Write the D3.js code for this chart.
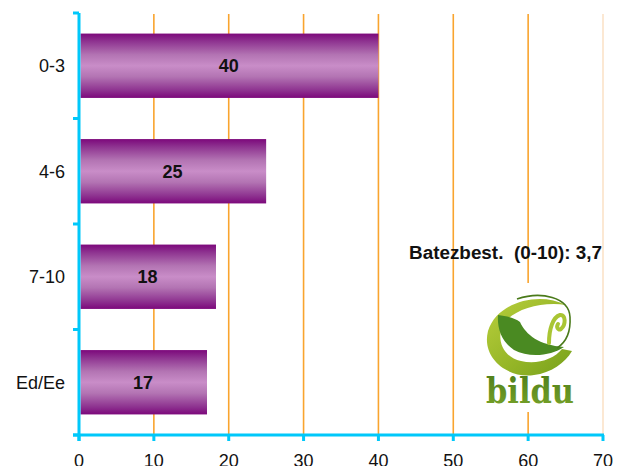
<!DOCTYPE html>
<html>
<head>
<meta charset="utf-8">
<script src="https://cdn.jsdelivr.net/npm/d3@7/dist/d3.min.js"></script>
<style>
  html, body { margin: 0; padding: 0; background: #fff; }
  svg { display: block; }
</style>
</head>
<body>
<svg id="chart" width="618" height="466"></svg>
<script>
// ---- data ----
const categories = ["0-3", "4-6", "7-10", "Ed/Ee"];
const values = [40, 25, 18.3, 17.1];
const valueLabels = ["40", "25", "18", "17"];
const xTicks = [0, 10, 20, 30, 40, 50, 60, 70];
const annotation = "Batezbest.  (0-10): 3,7";
const logoText = "bildu";

(function () {
// ---- layout ----
const mLeft = 79, mRight = 603, mTop = 13, mBottom = 435;
const axisColor = "#00C8FA";
const gridColor = "#F9A42E";

const svg = d3.select("#chart");
const defs = svg.append("defs");

const grad = defs.append("linearGradient").attr("id", "barGrad")
  .attr("x1", 0).attr("y1", 0).attr("x2", 0).attr("y2", 1);
[[0, "#7c087b"], [0.12, "#8e3390"], [0.33, "#b374b3"], [0.5, "#c98dc8"],
 [0.67, "#b374b3"], [0.88, "#8e3390"], [1, "#7c087b"]]
  .forEach(([o, c]) => grad.append("stop").attr("offset", o).attr("stop-color", c));

const lgA = defs.append("linearGradient").attr("id", "limeGrad")
  .attr("x1", 0).attr("y1", 0).attr("x2", 1).attr("y2", 1);
lgA.append("stop").attr("offset", 0).attr("stop-color", "#b9cf3c");
lgA.append("stop").attr("offset", 0.6).attr("stop-color", "#93b426");
lgA.append("stop").attr("offset", 1).attr("stop-color", "#76a01c");

const lgT = defs.append("linearGradient").attr("id", "textGrad")
  .attr("x1", 0).attr("y1", 0).attr("x2", 0).attr("y2", 1);
lgT.append("stop").attr("offset", 0).attr("stop-color", "#4a7a18");
lgT.append("stop").attr("offset", 1).attr("stop-color", "#7aa52a");

const x = d3.scaleLinear().domain([0, 70]).range([mLeft, mRight]);
const y = d3.scaleBand().domain(categories).range([mTop, mBottom])
  .paddingInner(0.39).paddingOuter(0.195);

// gridlines
svg.append("g").selectAll("line").data(xTicks.filter(d => d > 0)).join("line")
  .attr("x1", d => x(d)).attr("x2", d => x(d))
  .attr("y1", mTop + 1).attr("y2", mBottom)
  .attr("stroke", d => d === 70 ? "#FBE3C8" : gridColor)
  .attr("stroke-width", 1.6);

// bars
svg.append("g").selectAll("rect").data(values).join("rect")
  .attr("x", x(0) + 1.5)
  .attr("y", (d, i) => y(categories[i]))
  .attr("width", d => x(d) - x(0) - 1.5)
  .attr("height", y.bandwidth())
  .attr("fill", "url(#barGrad)");

// value labels
svg.append("g").selectAll("text").data(values).join("text")
  .attr("x", d => (x(0) + x(d)) / 2)
  .attr("y", (d, i) => y(categories[i]) + y.bandwidth() / 2)
  .attr("dy", "0.36em")
  .attr("text-anchor", "middle")
  .attr("font-family", "Liberation Sans, Arial, sans-serif")
  .attr("font-weight", "bold")
  .attr("font-size", 18)
  .attr("fill", "#111")
  .text((d, i) => valueLabels[i]);

// logo
const logo = svg.append("g").attr("transform", "translate(470,275)");
logo.append("rect").attr("x", 7).attr("y", 8).attr("width", 107).attr("height", 129).attr("fill", "#fff");
const swirl = logo.append("g").attr("transform", "translate(-1,4)");
swirl.append("path")
  .attr("d", "M 97,26 C 70,12 28,23 19,52 C 12,80 40,100 65,96 C 82,94 96,84 103,72 L 93,70 C 85,80 68,86 52,82 C 34,78 28,62 33,48 C 40,32 70,22 97,26 Z")
  .attr("fill", "url(#limeGrad)");
swirl.append("path")
  .attr("d", "M 29,36 C 38,37 46,39 51,43 C 57,56 70,66 95,68 C 82,77 60,79 45,71 C 33,63 28,50 29,36 Z")
  .attr("fill", "#4a8a22");
swirl.append("path")
  .attr("d", "M 48,20 C 72,12 100,18 101,38 C 102,55 96,64 88,69")
  .attr("fill", "none").attr("stroke", "#4a7a1a").attr("stroke-width", 1.6);
swirl.append("path")
  .attr("d", "M 80,64 C 80,50 84,38 91,36 C 97,35 97,46 92,50 C 89,52 87,48 89,45")
  .attr("fill", "none").attr("stroke", "#a9c533").attr("stroke-width", 4).attr("stroke-linecap", "round");
logo.append("text")
  .attr("x", 16).attr("y", 128)
  .attr("font-family", "DejaVu Serif, serif")
  .attr("font-weight", "bold")
  .attr("font-size", 36)
  .attr("textLength", 88)
  .attr("lengthAdjust", "spacingAndGlyphs")
  .attr("fill", "url(#textGrad)")
  .text(logoText);

// annotation
svg.append("text")
  .attr("x", 409).attr("y", 259)
  .attr("font-family", "Liberation Sans, Arial, sans-serif")
  .attr("font-weight", "bold")
  .attr("font-size", 18)
  .attr("textLength", 193)
  .attr("lengthAdjust", "spacingAndGlyphs")
  .attr("fill", "#111")
  .style("white-space", "pre")
  .text(annotation);

// y axis
const step = y.step();
const yTickPos = categories.map(c => y(c) - y.paddingInner() * step / 2);
yTickPos[0] = mTop;
yTickPos.push(mBottom);
svg.append("line").attr("x1", mLeft).attr("x2", mLeft).attr("y1", mTop).attr("y2", mBottom + 6)
  .attr("stroke", axisColor).attr("stroke-width", 3);
svg.append("g").selectAll("line").data(yTickPos).join("line")
  .attr("x1", mLeft - 6).attr("x2", mLeft).attr("y1", d => d).attr("y2", d => d)
  .attr("stroke", axisColor).attr("stroke-width", 3);

svg.append("g").selectAll("text").data(categories).join("text")
  .attr("x", 65)
  .attr("y", d => y(d) + y.bandwidth() / 2)
  .attr("dy", "0.36em")
  .attr("text-anchor", "end")
  .attr("font-family", "Liberation Sans, Arial, sans-serif")
  .attr("font-size", 18)
  .attr("fill", "#111")
  .text(d => d);

// x axis
svg.append("line").attr("x1", mLeft - 6).attr("x2", mRight + 1).attr("y1", mBottom).attr("y2", mBottom)
  .attr("stroke", axisColor).attr("stroke-width", 3);
svg.append("g").selectAll("line").data(xTicks).join("line")
  .attr("x1", d => x(d)).attr("x2", d => x(d)).attr("y1", mBottom).attr("y2", mBottom + 6)
  .attr("stroke", axisColor).attr("stroke-width", 3);
svg.append("g").selectAll("text").data(xTicks).join("text")
  .attr("x", d => x(d))
  .attr("y", 467)
  .attr("text-anchor", "middle")
  .attr("font-family", "Liberation Sans, Arial, sans-serif")
  .attr("font-size", 18)
  .attr("fill", "#111")
  .text(d => d);
})();
</script>
</body>
</html>
